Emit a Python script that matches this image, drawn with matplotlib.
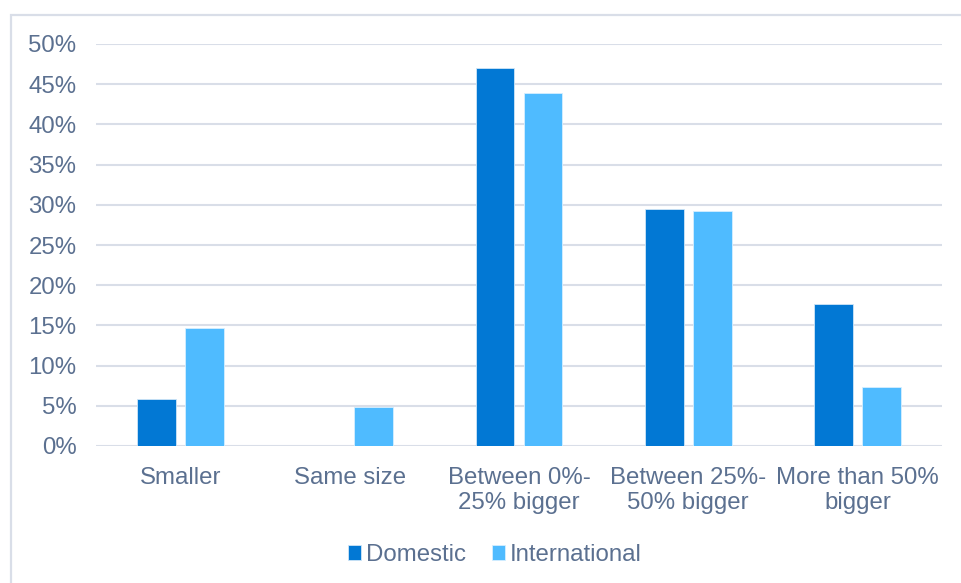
import matplotlib.pyplot as plt
from matplotlib.patches import Rectangle
import numpy as np

categories = ["Smaller", "Same size", "Between 0%-\n25% bigger",
              "Between 25%-\n50% bigger", "More than 50%\nbigger"]
domestic = [5.9, 0.0, 47.0, 29.5, 17.7]
international = [14.7, 4.9, 43.9, 29.2, 7.3]
y_ticks = [0, 5, 10, 15, 20, 25, 30, 35, 40, 45, 50]

text_color = "#5b7090"
grid_color = "#d9dee8"
dom_color = "#0278d4"
int_color = "#4fbbff"

plt.rcParams['font.family'] = ['Liberation Sans', 'DejaVu Sans']
fig_size_pt = 17.3

fig = plt.figure(figsize=(9.61, 5.83), dpi=100)
ax = fig.add_axes([96 / 961, 1 - 446 / 583, 846 / 961, (446 - 44) / 583])

# outer frame (cut off at right and bottom as in the source)
fig.patches.append(Rectangle((11 / 961, -0.1), 1.2, 1 - 15 / 583 + 0.1,
                             transform=fig.transFigure, fill=False,
                             edgecolor=grid_color, linewidth=1.6))

x = np.arange(len(categories))
w = 0.23
off = 0.142
ax.bar(x - off, domestic, w, color=dom_color, edgecolor="#cfe6f7",
       linewidth=0.6, label="Domestic", zorder=3)
ax.bar(x + off, international, w, color=int_color, edgecolor="#d5efff",
       linewidth=0.6, label="International", zorder=3)

ax.set_xlim(-0.5, len(categories) - 0.5)
ax.set_ylim(0, 50)
ax.set_yticks(y_ticks)
ax.set_yticklabels([f"{t}%" for t in y_ticks])
ax.set_xticks(x)
ax.set_xticklabels(categories, linespacing=1.2)
ax.tick_params(axis="both", length=0, colors=text_color, labelsize=fig_size_pt)
ax.tick_params(axis="y", pad=14)
ax.tick_params(axis="x", pad=15)
for s in ax.spines.values():
    s.set_visible(False)
ax.grid(axis="y", color=grid_color, linewidth=1.5, zorder=0)
ax.set_axisbelow(True)

leg = fig.legend(loc="center", bbox_to_anchor=(0.515, 1 - 555 / 583), ncol=2,
                 frameon=False, fontsize=fig_size_pt, handlelength=0.55,
                 handleheight=0.55, handletextpad=0.2, columnspacing=1.1,
                 borderaxespad=0)
for t in leg.get_texts():
    t.set_color(text_color)

fig.savefig("out.png", dpi=100)
